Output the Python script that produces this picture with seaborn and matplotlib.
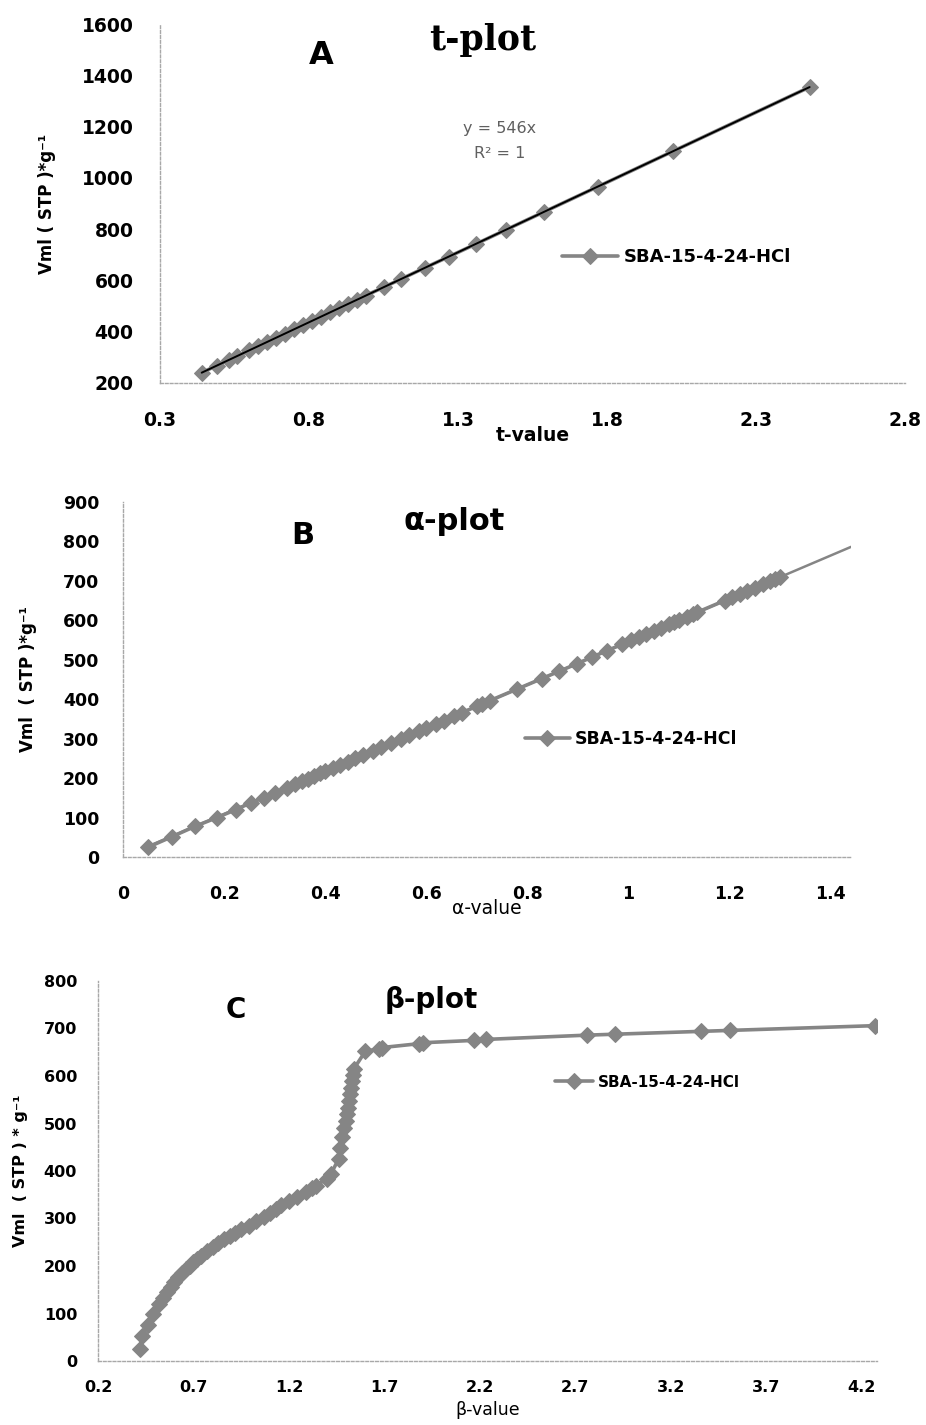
import numpy as np
import pandas as pd
import matplotlib
matplotlib.use("Agg")
import matplotlib.pyplot as plt
import seaborn as sns

# --- data ---
series_name = "SBA-15-4-24-HCl"

t_value = [0.44, 0.49, 0.53, 0.56, 0.60, 0.63, 0.66, 0.69, 0.72, 0.75, 0.78, 0.81,
           0.84, 0.87, 0.90, 0.93, 0.96, 0.99, 1.05, 1.11, 1.19, 1.27, 1.36, 1.46,
           1.59, 1.77, 2.02, 2.48]
t_vol = [240, 268, 290, 305, 327, 343, 360, 376, 393, 409, 425, 442,
         458, 475, 491, 508, 524, 541, 573, 606, 650, 693, 742, 797,
         868, 966, 1103, 1354]

alpha_value = [0.05, 0.096, 0.143, 0.186, 0.223, 0.254, 0.278, 0.30, 0.325, 0.34,
               0.354, 0.365, 0.377, 0.39, 0.40, 0.415, 0.43, 0.445, 0.459, 0.475,
               0.494, 0.51, 0.53, 0.55, 0.565, 0.585, 0.60, 0.62, 0.635, 0.655,
               0.67, 0.70, 0.71, 0.725, 0.78, 0.828, 0.863, 0.898, 0.928, 0.957,
               0.987, 1.005, 1.02, 1.035, 1.05, 1.065, 1.08, 1.09, 1.10, 1.115,
               1.127, 1.135, 1.19, 1.205, 1.22, 1.235, 1.25, 1.265, 1.28, 1.29, 1.30]
alpha_vol = [25, 51, 78, 100, 120, 138, 150, 162, 176, 184,
             192, 199, 206, 212, 218, 226, 234, 242, 250, 259,
             270, 278, 290, 300, 309, 320, 328, 338, 346, 357,
             366, 382, 388, 396, 426, 452, 471, 490, 507, 523,
             539, 549, 557, 565, 573, 581, 590, 595, 601, 609,
             615, 620, 650, 658, 666, 674, 682, 691, 699, 704, 710]

beta_value = [0.42, 0.43, 0.46, 0.49, 0.52, 0.54, 0.56, 0.58, 0.60, 0.62,
              0.64, 0.66, 0.68, 0.70, 0.72, 0.74, 0.77, 0.80, 0.83, 0.86,
              0.89, 0.92, 0.95, 0.99, 1.03, 1.07, 1.10, 1.13, 1.16, 1.20,
              1.24, 1.29, 1.32, 1.34, 1.40, 1.42, 1.46, 1.47, 1.48, 1.49,
              1.50, 1.505, 1.51, 1.515, 1.52, 1.525, 1.53, 1.535, 1.54, 1.60,
              1.67, 1.69, 1.88, 1.90, 2.17, 2.23, 2.76, 2.91, 3.36, 3.51, 4.27]
beta_vol = [26, 53, 76, 98, 119, 132, 145, 156, 166, 176,
            185, 193, 201, 208, 215, 222, 231, 240, 248, 256,
            263, 270, 277, 285, 294, 303, 312, 319, 328, 336,
            345, 356, 364, 369, 384, 394, 425, 448, 472, 490,
            506, 520, 532, 548, 562, 575, 590, 603, 615, 652,
            657, 660, 668, 670, 675, 677, 686, 688, 694, 696, 706]

trend_slope = 546          # fitted line y = 546x shown in panels A and B
alpha_trend_end = 1.44

sns.set_style("white")
plt.rcParams["font.family"] = ["DejaVu Sans"]
plt.rcParams["text.color"] = "black"
plt.rcParams["axes.labelcolor"] = "black"
plt.rcParams["xtick.labelcolor"] = "black"
plt.rcParams["ytick.labelcolor"] = "black"

grey = "#858585"
axis_grey = "#a8a8a8"
fig = plt.figure(figsize=(9.26, 14.25), dpi=100)
W, H = 926, 1425


def px_axes(left, top, right, bottom):
    return fig.add_axes([left / W, 1 - bottom / H, (right - left) / W, (bottom - top) / H])


def px_text(x, y, s, **kw):
    # place text at pixel position measured from the top-left corner
    fig.text(x / W, 1 - y / H, s, **kw)


ax_a = px_axes(160, 24, 905, 383)
ax_b = px_axes(123, 502, 851, 857)
ax_c = px_axes(98, 981, 877, 1361)

line_kw = dict(color=grey, marker="D", markersize=8.5, markeredgecolor=grey,
               linewidth=2.6, sort=False, estimator=None)

# A: t-plot
sns.lineplot(x=t_value, y=t_vol, ax=ax_a, label=series_name, **line_kw)
tx = np.array([t_value[0], t_value[-1]])
ax_a.plot(tx, trend_slope * tx, color="black", linewidth=1.4)
ax_a.set_xlim(0.3, 2.8)
ax_a.set_ylim(200, 1600)
ax_a.set_xticks(np.arange(0.3, 2.81, 0.5))
ax_a.set_yticks(range(200, 1601, 200))
ax_a.set_xlabel("t-value", fontsize=13.5, fontweight="bold", labelpad=-3)
ax_a.set_ylabel("Vml ( STP )*g⁻¹", fontsize=12, fontweight="bold", va="center")
ax_a.yaxis.set_label_coords(-0.152, 0.5)
px_text(321, 56, "A", fontsize=23, fontweight="bold", ha="center", va="center")
px_text(483, 50, "t-plot", fontsize=25, fontweight="bold", family="DejaVu Serif",
        ha="center", va="baseline")
px_text(500, 128, "y = 546x", fontsize=11.5, color="#606060", ha="center", va="center")
px_text(500, 153, "R² = 1", fontsize=11.5, color="#606060", ha="center", va="center")

# B: alpha-plot
sns.lineplot(x=alpha_value, y=alpha_vol, ax=ax_b, label=series_name, **line_kw)
bx = np.array([alpha_value[0], alpha_trend_end])
ax_b.plot(bx, trend_slope * bx, color=grey, linewidth=1.8, zorder=1)
ax_b.set_xlim(0, 1.44)
ax_b.set_ylim(0, 900)
ax_b.set_xticks([0, 0.2, 0.4, 0.6, 0.8, 1.0, 1.2, 1.4])
ax_b.set_xticklabels(["0", "0.2", "0.4", "0.6", "0.8", "1", "1.2", "1.4"])
ax_b.set_yticks(range(0, 901, 100))
ax_b.set_xlabel("α-value", fontsize=13.5, labelpad=-3)
ax_b.set_ylabel("Vml  ( STP )*g⁻¹", fontsize=12, fontweight="bold", va="center")
ax_b.yaxis.set_label_coords(-0.130, 0.5)
px_text(303, 536, "B", fontsize=22, fontweight="bold", ha="center", va="center")
px_text(454, 530, "α-plot", fontsize=22, fontweight="bold", ha="center", va="baseline")

# C: beta-plot
sns.lineplot(x=beta_value, y=beta_vol, ax=ax_c, label=series_name, **line_kw)
ax_c.set_xlim(0.2, 4.28)
ax_c.set_ylim(0, 800)
ax_c.set_xticks(np.arange(0.2, 4.21, 0.5))
ax_c.set_yticks(range(0, 801, 100))
ax_c.set_xlabel("β-value", fontsize=12.5, labelpad=4)
ax_c.set_ylabel("Vml  ( STP ) * g⁻¹", fontsize=11.5, fontweight="bold", va="center")
ax_c.yaxis.set_label_coords(-0.100, 0.5)
px_text(236, 1010, "C", fontsize=20, fontweight="bold", ha="center", va="center")
px_text(431, 1008, "β-plot", fontsize=20, fontweight="bold", ha="center", va="baseline")

# per-panel styling: tick font size, tick pad, legend anchor, legend font, handle length
panel_style = {
    ax_a: dict(tick=13.5, xpad=15, ypad=16, anchor=(0.540, 0.351), leg=13, hl=3.1),
    ax_b: dict(tick=12.5, xpad=15.5, ypad=14, anchor=(0.552, 0.332), leg=12.5, hl=2.6),
    ax_c: dict(tick=11.5, xpad=9, ypad=12, anchor=(0.587, 0.734), leg=11, hl=2.5),
}
for ax, st in panel_style.items():
    for side in ("top", "right"):
        ax.spines[side].set_visible(False)
    for side in ("left", "bottom"):
        ax.spines[side].set_color(axis_grey)
        ax.spines[side].set_linewidth(1.0)
        ax.spines[side].set_linestyle((0, (2, 1.5)))
    ax.tick_params(axis="x", direction="out", length=5, color=axis_grey, width=1,
                   labelsize=st["tick"], pad=st["xpad"])
    ax.tick_params(axis="y", direction="inout", length=6, color=axis_grey, width=1,
                   labelsize=st["tick"], pad=st["ypad"])
    for lab in ax.get_xticklabels() + ax.get_yticklabels():
        lab.set_fontweight("bold")
    leg = ax.legend(loc="center left", bbox_to_anchor=st["anchor"], frameon=False,
                    borderpad=0, borderaxespad=0, handlelength=st["hl"], handletextpad=0.3,
                    prop={"weight": "bold", "size": st["leg"]})
    for txt in leg.get_texts():
        txt.set_color("black")
    ax.grid(False)

fig.savefig("out.png", dpi=100)
